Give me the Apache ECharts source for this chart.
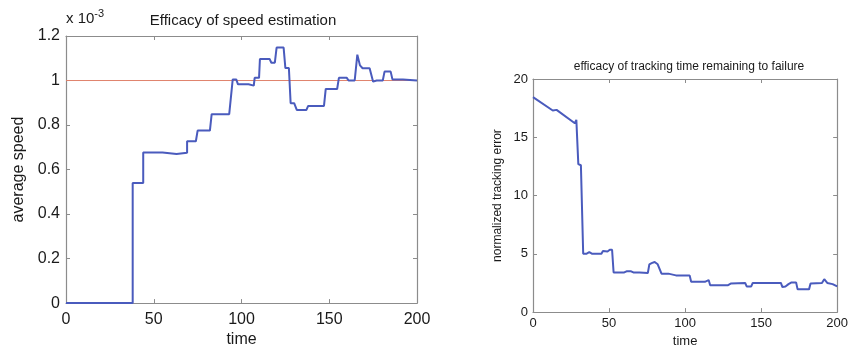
<!DOCTYPE html>
<html><head><meta charset="utf-8">
<script src="https://cdn.jsdelivr.net/npm/echarts@6/dist/echarts.min.js"></script>
<style>html,body{margin:0;padding:0;background:#fff}#c{width:851px;height:353px}</style>
</head><body><div id="c"></div>
<script>
// Left chart: average speed (x 10^-3) vs time
var speedTime = [0,38,38,44,44,55,56,63,64,69,69,74,75,82,83,93,95,97,98,104,105,107,107.5,110,110.5,116,117,119,120,124,125,127,128,130,131.5,137,138,147,148,154.5,155.5,160,161,164.5,166,167.5,169,173,175,177,180.5,181.5,185,186,192,193,200];
var speedValue = [0,0,0.54,0.54,0.677,0.677,0.67,0.67,0.675,0.675,0.727,0.727,0.775,0.775,0.849,0.849,1.005,1.005,0.983,0.983,0.977,0.977,1.012,1.012,1.097,1.097,1.08,1.08,1.148,1.148,1.056,1.056,0.898,0.898,0.868,0.868,0.886,0.886,0.962,0.962,1.012,1.012,1.0,1.0,1.116,1.068,1.055,1.055,0.995,1.0,1.0,1.04,1.04,1.005,1.005,1.0,1.0];
var referenceSpeed = 1.0;
// Right chart: normalized tracking error vs time
var errTime = [0,13,14,15.5,27.5,28.5,29.8,31.5,33,35,37,39,45,46,49,50.5,52,53,60,61.5,64.5,66,70,71,75.5,76.5,78,80,82,83,84.5,89,90,94,95,96,103,104,113,114,115.5,116.5,128,130,139.5,140.5,143.5,144.5,163,164,166,168,170,173,174,181.5,182.5,190,191.5,193.5,197,200];
var errValue = [18.45,17.3,17.35,17.35,16.2,16.5,12.7,12.6,5.0,5.0,5.15,5.0,5.0,5.25,5.2,5.35,5.35,3.4,3.4,3.5,3.5,3.4,3.4,3.35,3.35,4.1,4.2,4.3,4.1,4.0,3.3,3.3,3.15,3.15,3.3,3.15,3.15,2.6,2.6,2.75,2.75,2.3,2.3,2.45,2.5,2.2,2.2,2.5,2.5,2.15,2.2,2.4,2.55,2.55,1.95,1.95,2.45,2.5,2.82,2.5,2.4,2.2];
var leftTitle = 'Efficacy of speed estimation';
var rightTitle = 'efficacy of tracking time remaining to failure';

function zip(a,b){return a.map(function(v,i){return [v,b[i]];});}
var FONT = '"Liberation Sans", Arial, sans-serif';
var AX = '#8c8c8c', TX = '#1a1a1a';

function xAx(grid, fs, gap, margin, top){
  return {type:'value', gridIndex:grid, min:0, max:200, interval:50, position: top?'top':'bottom',
    name: top?'':'time', nameLocation:'middle', nameGap:gap,
    nameTextStyle:{fontFamily:FONT,fontSize:fs,color:TX},
    axisLine:{show:true,onZero:false,lineStyle:{color:AX,width:1.2}},
    axisTick:{show:true,inside:true,length:4,lineStyle:{color:AX}},
    axisLabel:{show:!top,margin:margin,fontFamily:FONT,fontSize:fs,color:TX},
    splitLine:{show:false}};
}
function yAx(grid, min, max, interval, fs, name, nfs, gap, margin, right, fmt){
  return {type:'value', gridIndex:grid, min:min, max:max, interval:interval, position: right?'right':'left',
    name: right?'':name, nameLocation:'middle', nameGap:gap,
    nameTextStyle:{fontFamily:FONT,fontSize:nfs,color:TX},
    axisLine:{show:true,onZero:false,lineStyle:{color:AX,width:1.2}},
    axisTick:{show:true,inside:true,length:4,lineStyle:{color:AX}},
    axisLabel:{show:!right,margin:margin,fontFamily:FONT,fontSize:fs,color:TX,formatter:fmt},
    splitLine:{show:false}};
}

var chart = echarts.init(document.getElementById('c'), null, {renderer:'canvas'});
chart.setOption({
  animation:false,
  backgroundColor:'#fff',
  title:[
    {text:leftTitle, left:238, top:8, textAlign:'center', textStyle:{fontFamily:FONT,fontSize:15,fontWeight:'normal',color:TX}},
    {text:rightTitle, left:684, top:56, textAlign:'center', textStyle:{fontFamily:FONT,fontSize:12,fontWeight:'normal',color:TX}}
  ],
  graphic:[{type:'text', left:66, top:8, style:{text:'x 10{s|-3}', rich:{s:{fontSize:11,verticalAlign:'top',padding:[0,0,10,0],fontFamily:FONT,fill:TX}}, font:'15px '+FONT, fill:TX}}],
  grid:[
    {left:66, top:36, width:351, height:269},
    {left:533, top:79, width:305, height:236}
  ],
  xAxis:[xAx(0,16,28,8,false), xAx(0,16,28,8,true), xAx(1,13,16,5,false), xAx(1,13,16,5,true)],
  yAxis:[
    yAx(0,0,1.2,0.2,16,'average speed',16,39,6,false,function(v){return (Math.round(v*10)/10).toString();}),
    yAx(0,0,1.2,0.2,16,'',16,0,6,true),
    yAx(1,0,20,5,13,'normalized tracking error',12,29,5,false,function(v){return v;}),
    yAx(1,0,20,5,13,'',12,0,5,true)
  ],
  series:[
    {type:'line', xAxisIndex:0, yAxisIndex:0, data:[[0,referenceSpeed],[200,referenceSpeed]], symbol:'none', lineStyle:{color:'#e0836c',width:1}, z:2},
    {type:'line', xAxisIndex:0, yAxisIndex:0, data:zip(speedTime,speedValue), symbol:'none', lineStyle:{color:'#4a5bbd',width:2}, z:3},
    {type:'line', xAxisIndex:2, yAxisIndex:2, data:zip(errTime,errValue), symbol:'none', lineStyle:{color:'#4a5bbd',width:2}, z:3}
  ]
});
</script></body></html>
